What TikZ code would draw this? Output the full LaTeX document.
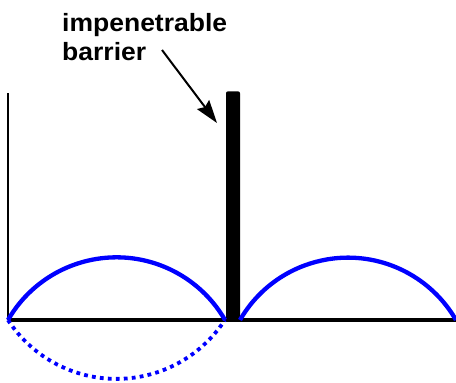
\documentclass[tikz,border=0pt]{standalone}
\usepackage{fontspec}
\setmainfont{Liberation Sans}
\usetikzlibrary{arrows.meta}
\definecolor{wave}{RGB}{0,0,255}
\tikzset{>={Stealth[length=23pt,width=15pt,inset=3pt]},
  axis/.style={draw=black,line cap=butt},
  wavefn/.style={draw=wave,line width=4.3pt},
  mirror/.style={draw=wave,line width=3.8pt,dash pattern=on 3.8pt off 4.2pt},
  wallbar/.style={fill=black,rounded corners=2pt,inner sep=0pt,minimum width=14pt,minimum height=230pt},
  callout/.style={font=\bfseries\fontsize{25}{29}\selectfont,align=left,inner sep=0pt,xscale=1.06}}
\begin{document}
\begin{tikzpicture}[x=1pt,y=-1pt]
\useasboundingbox (0,0) rectangle (456,383);
\coordinate (o) at (8,320);\coordinate (ytop) at (8,93);\coordinate (xend) at (456,320);
\coordinate (tail) at (162,50);\coordinate (tip) at (217,123);
\draw[axis,line width=2pt] (ytop)--(o);\draw[axis,line width=4pt] (o)--(xend);
\node[wallbar,anchor=south] (barrier) at (233,321.5) {};
\draw[wavefn] (o) arc[start angle=210,end angle=330,radius=125.3];
\draw[wavefn] (240,320) arc[start angle=210,end angle=330,radius=124.7];
\draw[mirror] (o) arc[start angle=147,end angle=33,radius=129.3];
\node[callout,anchor=base west] (label) at (62,60) {impenetrable\\barrier};
\draw[->,line width=2pt] (tail)--(tip);
\end{tikzpicture}
\end{document}
